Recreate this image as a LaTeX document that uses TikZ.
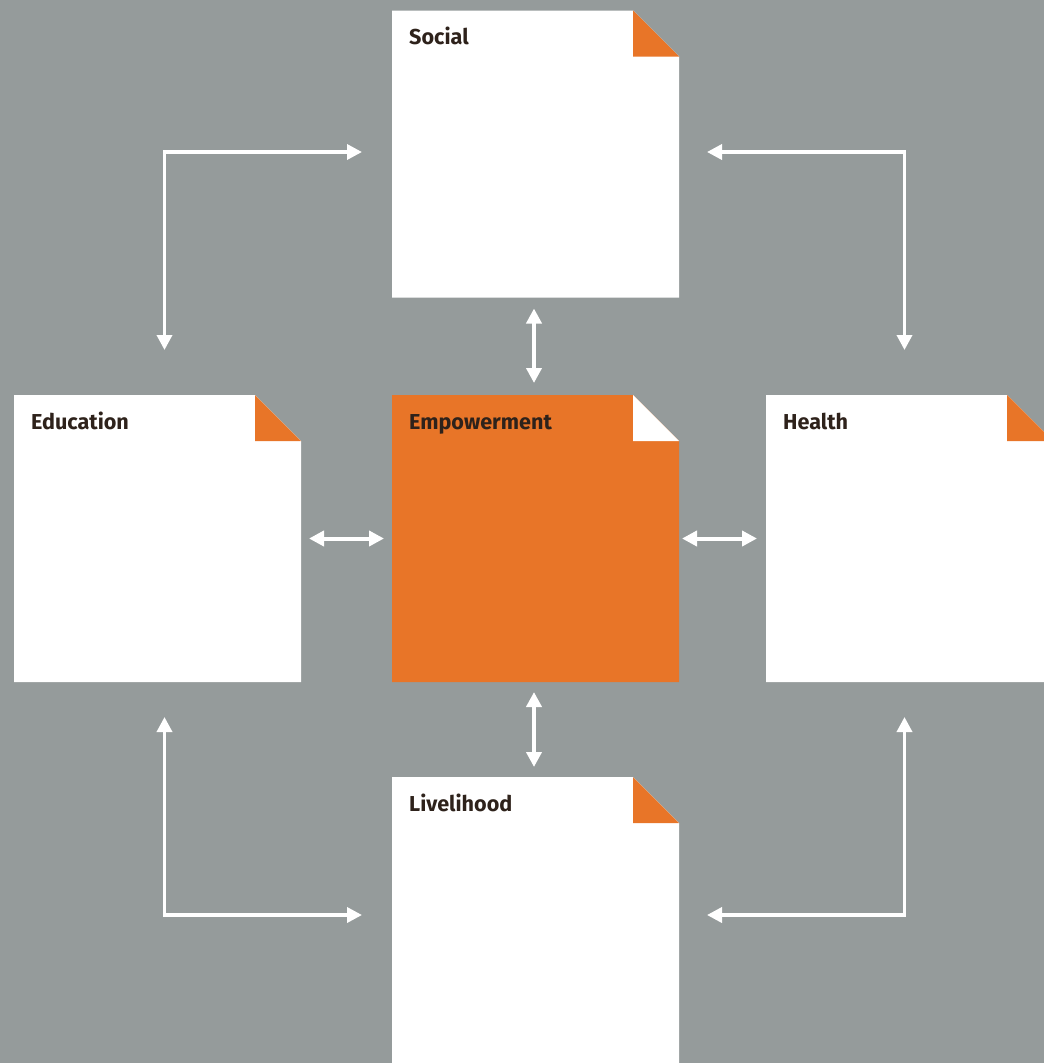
\documentclass[tikz,border=0pt]{standalone}
\usepackage{fontspec}
\setmainfont{Fira Sans}
\usetikzlibrary{arrows.meta,calc}

\definecolor{bggray}{HTML}{959B9B}
\definecolor{brandorange}{HTML}{E87528}
\definecolor{labelbrown}{HTML}{2E221B}

\tikzset{
  card/.style={minimum width=287pt, minimum height=287pt, inner sep=0pt, outer sep=0pt, draw=none},
  cardlabel/.style={anchor=base west, inner sep=0pt, text=labelbrown,
    font=\fontsize{21.6}{24}\selectfont\bfseries},
  link/.style={draw=white, line width=4pt,
    {Triangle[length=15pt,width=15pt]}-{Triangle[length=15pt,width=15pt]}},
  loop/.style={draw=white, line width=3.5pt,
    {Triangle[length=15pt,width=15pt]}-{Triangle[length=15pt,width=15pt]}},
}

% paper card with a folded top-right corner
\newcommand\foldcard[4]{% name, body colour, fold colour, label
  \fill[#2] (#1.north west) -- ([xshift=-46pt]#1.north east)
    -- ([yshift=-46pt]#1.north east) -- (#1.south east) -- (#1.south west) -- cycle;
  \fill[#3] ([xshift=-46pt]#1.north east) -- ([xshift=-46pt,yshift=-46pt]#1.north east)
    -- ([yshift=-46pt]#1.north east) -- cycle;
  \node[cardlabel] (#1-label) at ([xshift=17pt,yshift=-34pt]#1.north west) {#4};
}

\begin{document}
\begin{tikzpicture}[x=1pt,y=-1pt]
  \fill[bggray] (0,0) rectangle (1044,1063);
  \useasboundingbox (0,0) rectangle (1044,1063);

  \node[card] (social)    at (535.5,154)  {};
  \node[card] (empower)   at (535.5,538.5) {};
  \node[card] (education) at (157.5,538.5) {};
  \node[card] (health)    at (909.5,538.5) {};
  \node[card] (livelihood) at (535.5,920.5) {};

  \foldcard{social}{white}{brandorange}{Social}
  \foldcard{empower}{brandorange}{white}{Empowerment}
  \foldcard{education}{white}{brandorange}{Education}
  \foldcard{health}{white}{brandorange}{Health}
  \foldcard{livelihood}{white}{brandorange}{Livelihood}

  % links around the central card
  \draw[link, shorten <=11pt, shorten >=12pt] ([xshift=-1.5pt]social.south) -- ([xshift=-1.5pt]empower.north);
  \draw[link, shorten <=10pt, shorten >=10pt] ([xshift=-1.5pt]empower.south) -- ([xshift=-1.5pt]livelihood.north);
  \draw[link, shorten <=8pt, shorten >=8pt] (education.east) -- (empower.west);
  \draw[link, shorten <=3pt, shorten >=9pt] (empower.east) -- (health.west);

  % links between the outer cards
  \draw[loop] ([xshift=-30pt,yshift=2pt]social.west) -| ([xshift=7pt,yshift=45pt]education.north);
  \draw[loop] ([xshift=28pt,yshift=2pt]social.east) -| ([xshift=-5pt,yshift=45pt]health.north);
  \draw[loop] ([xshift=7pt,yshift=-35pt]education.south) |- ([xshift=-30pt]livelihood.west |- 0,915);
  \draw[loop] ([xshift=-5pt,yshift=-35pt]health.south) |- ([xshift=28pt]livelihood.east |- 0,915);
\end{tikzpicture}
\end{document}
